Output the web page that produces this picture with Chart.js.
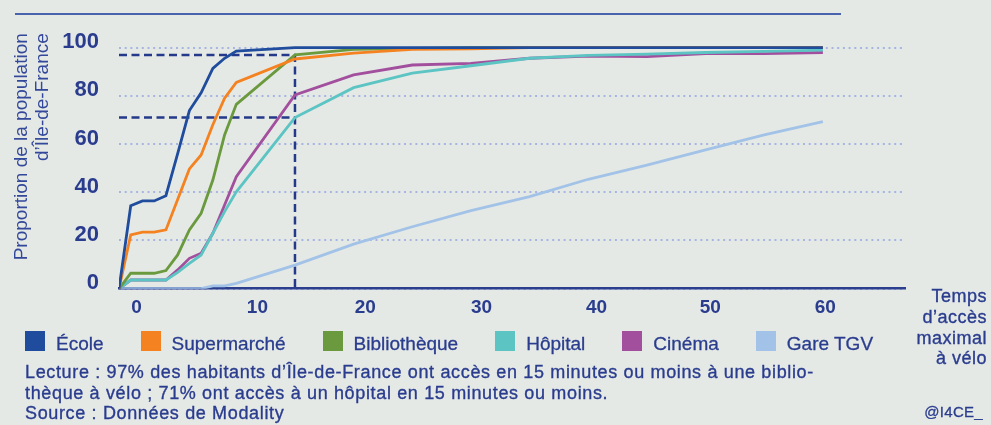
<!DOCTYPE html>
<html lang="fr">
<head>
<meta charset="utf-8">
<title>Accès à vélo aux équipements en Île-de-France</title>
<script src="https://cdn.jsdelivr.net/npm/chart.js@4.4.1/dist/chart.umd.min.js"></script>
<style>
  html, body { margin: 0; padding: 0; background: #e5e9e6; }
  #fig { position: relative; width: 991px; height: 425px; overflow: hidden;
         font-family: 'Liberation Sans', Arial, Helvetica, sans-serif; color: #2a3c8e; }
  #fig canvas { position: absolute; left: 0; top: 0; }
  #rule { position: absolute; left: 15px; top: 13px; width: 826px; height: 2px; background: #4a63ad; }
  #legend { position: absolute; left: 25px; top: 331px; display: flex; gap: 37px; font-size: 19px; line-height: 20px;
            -webkit-text-stroke: 0.3px #2a3c8e; }
  #legend .item { display: flex; align-items: flex-start; }
  #legend .sw { width: 20px; height: 20px; margin-right: 11px; }
  #legend .lbl { position: relative; top: 3px; }
  #note { position: absolute; left: 25px; top: 362px; font-size: 18px; line-height: 20.5px; letter-spacing: 0.65px;
          white-space: nowrap; -webkit-text-stroke: 0.35px #2a3c8e; }
  #xtitle { position: absolute; right: 4px; top: 286px; text-align: right; font-size: 18px; line-height: 20.8px;
            letter-spacing: 0.5px; -webkit-text-stroke: 0.35px #2a3c8e; }
  #credit { position: absolute; right: 8px; top: 403px; font-size: 15px; letter-spacing: 0.3px; -webkit-text-stroke: 0.3px #2a3c8e; }
</style>
</head>
<body>
<div id="fig">
  <canvas id="accesC" width="991" height="425"></canvas>
  <div id="rule"></div>
  <div id="legend"></div>
  <div id="note">Lecture : 97% des habitants d’Île-de-France ont accès en 15 minutes ou moins à une biblio-<br>thèque à vélo ; 71% ont accès à un hôpital en 15 minutes ou moins.<br>Source : Données de Modality</div>
  <div id="xtitle">Temps<br>d’accès<br>maximal<br>à vélo</div>
  <div id="credit">@I4CE_</div>
</div>
<script>
// Share of the population (%) reaching each facility within N minutes by bike
const minutes      = [0, 1, 2, 3, 4, 5, 6, 7, 8, 9, 10, 15, 20, 25, 30, 35, 40, 45, 50, 55, 60];
const ecole        = [0, 34.4, 36.4, 36.4, 38.6, 56, 73.9, 81.3, 91.4, 95.6, 98.6, 100, 100, 100, 100, 100, 100, 100, 100, 100, 100];
const supermarche  = [0, 22.3, 23.5, 23.5, 24.4, 37, 49.7, 55.5, 68, 79, 85.6, 95.3, 97.7, 99.3, 99.5, 100, 100, 100, 100, 100, 100];
const bibliotheque = [0, 6.4, 6.4, 6.4, 7.5, 14, 24.4, 31.3, 45.1, 63.8, 76.5, 97, 99.3, 99.7, 100, 100, 100, 100, 100, 100, 100];
const hopital      = [0, 3.6, 3.6, 3.6, 3.6, 6.8, 10.5, 14, 23, 32, 40.2, 71, 83.4, 89.4, 92.5, 95.6, 96.8, 97.3, 98, 98.5, 99];
const cinema       = [0, 3.6, 3.6, 3.6, 3.6, 7.8, 12.6, 14.7, 23, 34.7, 46.5, 80.4, 88.7, 92.8, 93.5, 95.6, 96.5, 96.3, 97.5, 97.5, 98];
const gareTgv      = [0, 0, 0, 0, 0, 0, 0, 0, 1.2, 1.2, 2.2, 9.8, 18.5, 25.7, 32.4, 38.2, 45.4, 51.3, 57.6, 63.8, 69.3];

const seriesNames  = ['École', 'Supermarché', 'Bibliothèque', 'Hôpital', 'Cinéma', 'Gare TGV'];
const seriesValues = [ecole, supermarche, bibliotheque, hopital, cinema, gareTgv];
const seriesColors = ['#1f4c9c', '#f58220', '#6b9a3e', '#5cc4c3', '#a2509e', '#a2c3e7'];

const yTicks      = [0, 20, 40, 60, 80, 100];
const xTickLabels = ['0', '10', '20', '30', '40', '50', '60'];
const xTickAt     = [1.5, 11.8, 21, 30.9, 40.7, 50.4, 60.2];

// reading guides: 15 min -> 97% (bibliothèque), 71% (hôpital)
const guideMinute = 15;
const guideLevels = [97, 71];

const NAVY = '#2a3c8e';
const FONT = "'Liberation Sans', Arial, Helvetica, sans-serif";

const curveSets = seriesValues.map((vals, i) => ({
  label: seriesNames[i],
  data: minutes.map((m, j) => ({ x: m, y: vals[j] })),
  borderColor: seriesColors[i],
  backgroundColor: seriesColors[i],
  borderWidth: 2.8,
  pointRadius: 0,
  tension: 0,
  order: i,
}));

const guideSets = guideLevels.map((lvl, i) => ({
  label: 'guide' + i,
  data: i === 0
    ? [{ x: 0, y: lvl }, { x: guideMinute, y: lvl }, { x: guideMinute, y: 0 }]
    : [{ x: 0, y: lvl }, { x: guideMinute, y: lvl }],
  borderColor: '#24398a',
  borderWidth: 2.5,
  borderDash: [8, 4.5],
  pointRadius: 0,
  tension: 0,
  order: 50,
}));

new Chart(document.getElementById('accesC'), {
  type: 'line',
  data: { datasets: curveSets.concat(guideSets) },
  options: {
    responsive: false,
    animation: false,
    events: [],
    layout: { padding: { top: 26.8, right: 86, bottom: 96.3, left: 0 } },
    plugins: { legend: { display: false }, tooltip: { enabled: false } },
    scales: {
      x: {
        type: 'linear', min: 0, max: 67, z: 1,
        afterBuildTicks: s => { s.ticks = xTickAt.map(v => ({ value: v })); },
        afterFit: s => { s.height = 40; },
        grid: { display: false, drawTicks: false },
        border: { display: true, color: '#2c3f8f', width: 2.5 },
        ticks: {
          padding: 7.5, autoSkip: false, maxRotation: 0, color: NAVY,
          font: { family: FONT, size: 19, weight: 'bold' },
          callback: (v, i) => xTickLabels[i],
        },
      },
      y: {
        min: 0, max: 106,
        afterBuildTicks: s => { s.ticks = yTicks.map(v => ({ value: v })); },
        afterFit: s => { s.width = 119; },
        grid: { color: '#a7b5e0', lineWidth: 2, drawTicks: false },
        border: { display: false, dash: [2, 3.7] },
        ticks: {
          padding: 20, labelOffset: -5.5, color: NAVY,
          font: { family: FONT, size: 22, weight: 'bold' },
        },
        title: {
          display: true, align: 'end', color: '#33489a',
          text: ['Proportion de la population', 'd’Île-de-France'],
          font: { family: FONT, size: 19, lineHeight: 1.12 },
          padding: { top: 11, bottom: 0 },
        },
      },
    },
  },
});

// legend row built from the series
const legendEl = document.getElementById('legend');
seriesNames.forEach((name, i) => {
  const item = document.createElement('div');
  item.className = 'item';
  const sw = document.createElement('span');
  sw.className = 'sw';
  sw.style.background = seriesColors[i];
  const lbl = document.createElement('span');
  lbl.className = 'lbl';
  lbl.textContent = name;
  item.appendChild(sw);
  item.appendChild(lbl);
  legendEl.appendChild(item);
});
</script>
</body>
</html>
